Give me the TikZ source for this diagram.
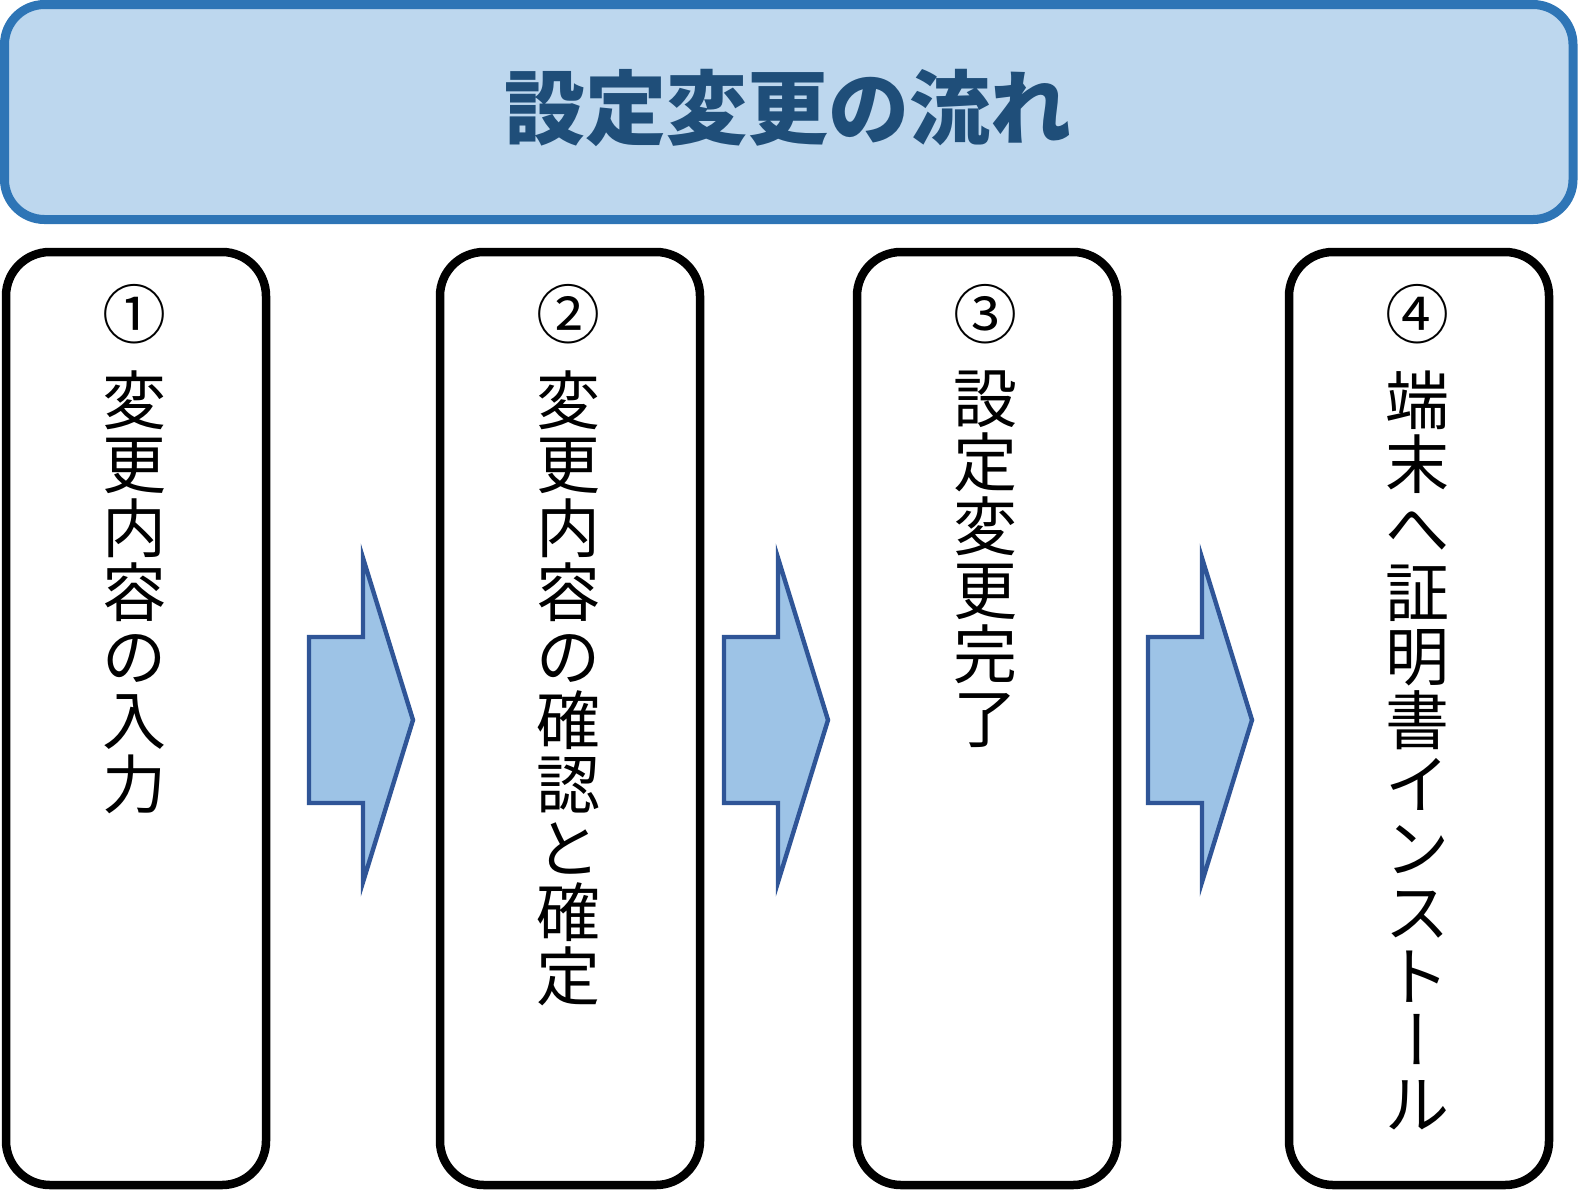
\documentclass[tikz,border=0pt]{standalone}
\usepackage{fontspec}
\setmainfont{Noto Sans CJK JP}
\newfontfamily\vfont[RawFeature=+vert]{Noto Sans CJK JP}
\definecolor{titlefill}{HTML}{BDD7EE}
\definecolor{titledraw}{HTML}{2E75B6}
\definecolor{titletext}{HTML}{1F4E79}
\definecolor{arrowfill}{HTML}{9DC3E6}
\definecolor{arrowdraw}{HTML}{2F5597}
\begin{document}
\begin{tikzpicture}[x=0.5pt,y=-0.5pt,
  stepbox/.style={draw=black,line width=4.25pt,rounded corners=22pt,minimum width=130pt,minimum height=466.5pt,inner sep=0pt,fill=white},
  numlabel/.style={font=\fontsize{32}{32}\selectfont,inner sep=0pt},
  coltext/.style={font=\fontsize{32}{32}\selectfont,inner sep=0pt,align=center,anchor=north},
  blockarrow/.style={draw=arrowdraw,fill=arrowfill,line width=2.2pt,line join=miter},
  blockarr/.pic={\path[blockarrow] (0,-83) -- (54,-83) -- (54,-162) -- (104,0) -- (54,162) -- (54,83) -- (0,83) -- cycle;}]
\useasboundingbox (0,0) rectangle (1578,1190);
\node[draw=titledraw,fill=titlefill,line width=4.5pt,rounded corners=20pt,minimum width=784.25pt,minimum height=107.5pt,inner sep=0pt] (title) at (788.75,112) {};
\node[font=\fontsize{40.5}{40.5}\selectfont\bfseries,text=titletext,inner sep=0pt] (titlelabel) at (788,108) {設定変更の流れ};
\node[stepbox] (box1) at (136,718.5) {};
\node[stepbox] (box2) at (570,718.5) {};
\node[stepbox] (box3) at (987,718.5) {};
\node[stepbox] (box4) at (1419,718.5) {};
\node[numlabel] (n1) at (134,314) {①};
\node[numlabel] (n2) at (568,314) {②};
\node[numlabel] (n3) at (985,314) {③};
\node[numlabel] (n4) at (1417,314) {④};
\node[coltext] (t1) at (134,370) {変\\更\\内\\容\\の\\入\\力};
\node[coltext] (t2) at (568,370) {変\\更\\内\\容\\の\\確\\認\\と\\確\\定};
\node[coltext] (t3) at (985,370) {設\\定\\変\\更\\完\\了};
\node[coltext] (t4) at (1417,370) {端\\末\\へ\\証\\明\\書\\イ\\ン\\ス\\ト\\{\vfont ー}\\ル};
\pic (arr1) at (309,720) {blockarr};
\pic (arr2) at (724,720) {blockarr};
\pic (arr3) at (1148,720) {blockarr};
\end{tikzpicture}
\end{document}
